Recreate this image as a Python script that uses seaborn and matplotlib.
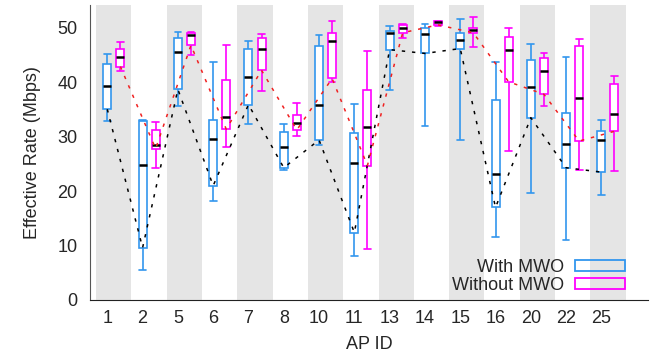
import numpy as np
import pandas as pd
import matplotlib
matplotlib.use("Agg")
import matplotlib.pyplot as plt
import matplotlib.patches as mpatches
import seaborn as sns

# ---------------- data ----------------
aps = ["1", "2", "5", "6", "7", "8", "10", "11", "13", "14", "15", "16", "20", "22", "25"]
conds = ["With MWO", "Without MWO"]

# With MWO: whisker low, Q1, median, Q3, whisker high
with_lo  = [32.9,  5.5, 35.7, 18.1, 32.3, 23.9, 28.4,  8.1, 38.5, 31.9, 29.4, 11.6, 19.6, 11.1, 19.2]
with_q1  = [35.05, 9.6, 38.7, 21.0, 35.9, 24.3, 29.4, 12.4, 46.0, 45.3, 46.2, 17.0, 33.5, 24.3, 23.5]
with_med = [39.3, 24.8, 45.5, 29.6, 41.0, 28.1, 35.8, 25.1, 49.0, 48.8, 47.7, 23.2, 39.2, 28.6, 29.4]
with_q3  = [43.3, 32.9, 48.1, 33.0, 46.2, 30.9, 46.6, 30.6, 49.4, 49.9, 49.0, 36.7, 44.1, 34.4, 31.1]
with_hi  = [45.2, 33.0, 49.3, 43.8, 47.5, 32.4, 48.7, 36.1, 50.4, 50.8, 51.7, 43.8, 47.1, 44.7, 33.1]

# Without MWO
wo_lo  = [42.0, 24.3, 45.0, 28.1, 38.4, 30.1, 40.1,  9.4, 48.2, 50.4, 46.4, 27.4, 35.7, 23.8, 23.7]
wo_q1  = [42.9, 27.8, 46.8, 31.4, 42.2, 31.25, 40.7, 24.7, 49.1, 50.55, 49.1, 40.1, 37.8, 29.2, 31.0]
wo_med = [44.7, 28.4, 48.6, 33.6, 46.1, 32.6, 47.5, 31.8, 49.9, 51.0, 49.6, 46.0, 42.1, 37.1, 34.2]
wo_q3  = [46.1, 31.25, 49.1, 40.4, 48.1, 34.0, 49.0, 38.5, 50.6, 51.2, 50.0, 48.3, 44.4, 46.7, 39.6]
wo_hi  = [47.4, 32.7, 49.3, 46.8, 48.9, 36.2, 51.3, 45.7, 50.7, 51.3, 52.0, 49.9, 45.3, 47.9, 41.1]

yticks = [0, 10, 20, 30, 40, 50]

# ---------------- styling ----------------
BLUE = "#3296ee"
MAGENTA = "#ff00ff"
BAND = "#e5e5e5"
FS = 13
GROUP_W = 0.74
HALF = GROUP_W / 4


def long_frame(cond, *stats):
    rows = []
    for ap, vals in zip(aps, zip(*stats)):
        for v in vals:
            rows.append((ap, cond, v))
    return pd.DataFrame(rows, columns=["AP", "cond", "rate"])


df_with = long_frame(conds[0], with_lo, with_q1, with_med, with_q3, with_hi)
df_wo = long_frame(conds[1], wo_lo, wo_q1, wo_med, wo_q3, wo_hi)
q1_df = pd.DataFrame({
    "AP": aps + aps,
    "cond": [conds[0]] * len(aps) + [conds[1]] * len(aps),
    "q1": with_q1 + wo_q1,
})

sns.set_style("white")
plt.rcParams["font.family"] = ["Liberation Sans", "DejaVu Sans"]

fig = plt.figure(figsize=(6.5, 3.58), dpi=100)
ax = fig.add_axes([90 / 650, 58 / 358, 558 / 650, 295 / 358])

n = len(aps)
xlo = -0.49 - HALF
xhi = 15.32 - HALF

# alternating background bands
for i in range(0, n, 2):
    ax.axvspan(max(i - 0.5, xlo), i + 0.5, color=BAND, lw=0, zorder=0)

for df, col in ((df_with, BLUE), (df_wo, MAGENTA)):
    sns.boxplot(
        data=df, x="AP", y="rate", hue="cond", order=aps, hue_order=conds,
        dodge=True, width=GROUP_W, gap=0.386, whis=(0, 100), fill=True,
        legend=False, ax=ax, linewidth=1.2, showfliers=False, capwidths=0.19,
        boxprops=dict(facecolor="white", edgecolor=col),
        whiskerprops=dict(color=col),
        capprops=dict(color=col),
        medianprops=dict(color="black", linewidth=1.8),
    )

n_before = len(ax.lines)
sns.pointplot(
    data=q1_df, x="AP", y="q1", hue="cond", order=aps, hue_order=conds,
    palette={conds[0]: "black", conds[1]: "#f02020"}, dodge=2 * HALF,
    markers="", linestyles="-", linewidth=1.1, errorbar=None, legend=False, ax=ax,
)
for ln in ax.lines[n_before:]:
    ln.set_linestyle((0, (2.2, 4.5)))
    ln.set_zorder(4)

ax.set_xlim(xlo, xhi)
ax.set_ylim(0, 54.2)
ax.set_yticks(yticks)
ax.set_xticks(np.arange(n) - HALF, labels=aps)
ax.tick_params(axis="x", direction="in", length=4, width=1, color="#777777",
               pad=7, labelsize=FS)
ax.tick_params(axis="y", length=0, pad=9, labelsize=FS)
ax.set_xlabel("AP ID", fontsize=FS, labelpad=7)
ax.set_ylabel("Effective Rate (Mbps)", fontsize=FS, labelpad=12)

for s in ("top", "right"):
    ax.spines[s].set_visible(False)
ax.spines["left"].set_color("#555555")
ax.spines["bottom"].set_color("#222222")

handles = [
    mpatches.Patch(facecolor="none", edgecolor=BLUE, linewidth=1.3, label=conds[0]),
    mpatches.Patch(facecolor="none", edgecolor=MAGENTA, linewidth=1.3, label=conds[1]),
]
ax.legend(handles=handles, loc="lower right", bbox_to_anchor=(0.959, 0.02),
          frameon=False, markerfirst=False, handlelength=2.8, handleheight=0.55,
          handletextpad=0.6, labelspacing=0.05, borderpad=0, borderaxespad=0,
          fontsize=FS)

fig.savefig("out.png", dpi=100)
